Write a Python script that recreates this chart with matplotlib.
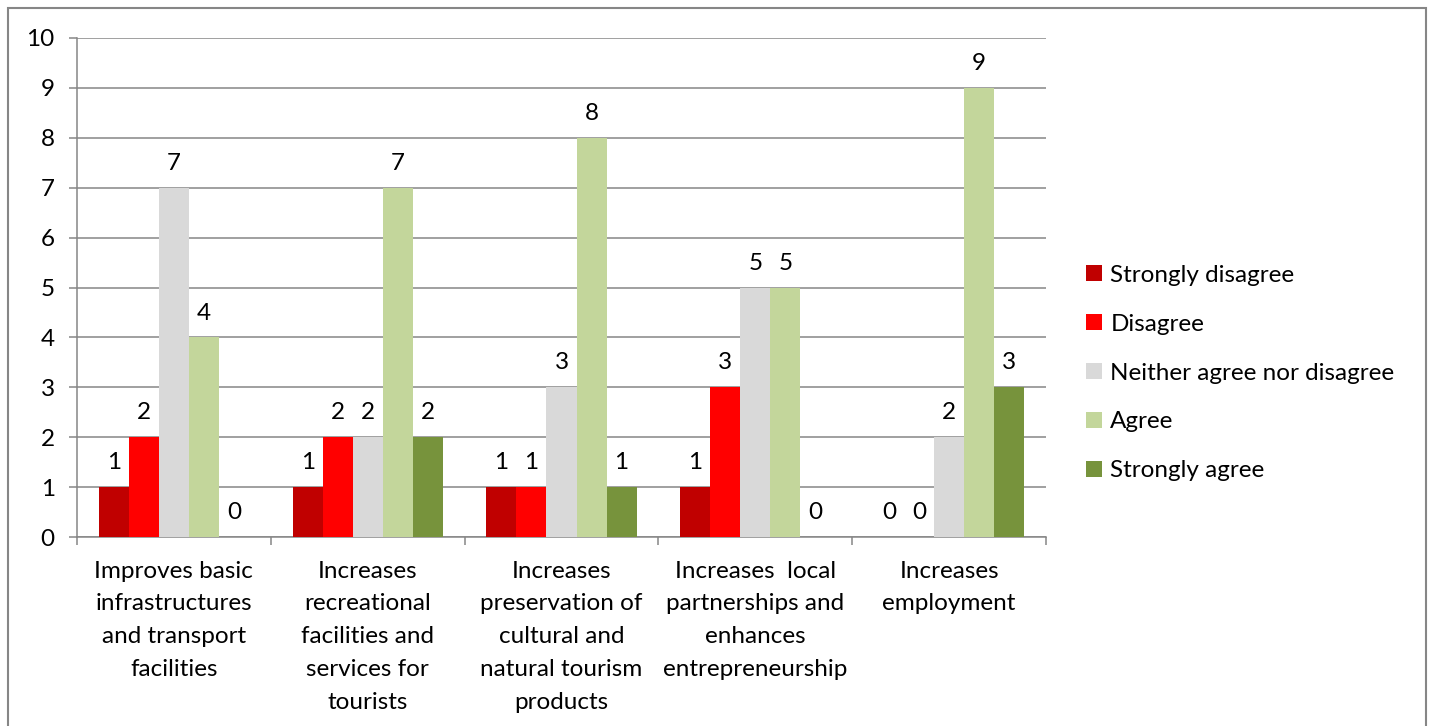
import matplotlib
matplotlib.use("Agg")
import matplotlib.pyplot as plt
from matplotlib.patches import Rectangle
import numpy as np

plt.rcParams['font.family'] = ['Lato', 'DejaVu Sans']

categories = [
    "Improves basic\ninfrastructures\nand transport\nfacilities",
    "Increases\nrecreational\nfacilities and\nservices for\ntourists",
    "Increases\npreservation of\ncultural and\nnatural tourism\nproducts",
    "Increases  local\npartnerships and\nenhances\nentrepreneurship",
    "Increases\nemployment",
]
series_names = ["Strongly disagree", "Disagree", "Neither agree nor disagree",
                "Agree", "Strongly agree"]
strongly_disagree = [1, 1, 1, 1, 0]
disagree = [2, 2, 1, 3, 0]
neutral = [7, 2, 3, 5, 2]
agree = [4, 7, 8, 5, 9]
strongly_agree = [0, 2, 1, 0, 3]
colors = ["#C00000", "#FF0000", "#D9D9D9", "#C3D69B", "#77933C"]

series = [strongly_disagree, disagree, neutral, agree, strongly_agree]
grid_col = "#868686"
fs = 17.5

fig = plt.figure(figsize=(14.33, 7.26), dpi=100)
ax = fig.add_axes([77 / 1433, 1 - 537 / 726, (1046 - 77) / 1433, (537 - 38) / 726])

x = np.arange(len(categories))
w = 0.155
handles = []
for k, (vals, name, c) in enumerate(zip(series, series_names, colors)):
    bars = ax.bar(x + (k - 2) * w, vals, w, color=c, label=name, zorder=3)
    handles.append(bars)
    for xi, v in zip(x + (k - 2) * w, vals):
        ax.annotate(str(v), (xi, v), xytext=(0, 10), textcoords="offset points",
                    ha="center", va="bottom", fontsize=fs, color="black")

ax.set_xlim(-0.5, len(categories) - 0.5)
ax.set_ylim(0, 10)
ax.set_yticks(range(0, 11))
ax.yaxis.grid(True, color=grid_col, linewidth=1.1, zorder=0)
ax.set_axisbelow(True)

ax.set_xticks(x)
ax.set_xticklabels(categories, fontsize=fs, linespacing=1.69)
ax.set_xticks(np.arange(-0.5, len(categories)), minor=True)
ax.tick_params(axis="x", which="major", length=0, pad=17)
ax.tick_params(axis="x", which="minor", length=6, width=1.1, color=grid_col, direction="out")
ax.tick_params(axis="y", length=6, width=1.1, color=grid_col, labelsize=fs, pad=10)

for s in ["top", "right"]:
    ax.spines[s].set_visible(False)
for s in ["left", "bottom"]:
    ax.spines[s].set_color(grid_col)
    ax.spines[s].set_linewidth(1.1)

fig.legend(handles=handles, loc="center left", bbox_to_anchor=(1086 / 1433, 1 - 373 / 726),
           frameon=False, fontsize=fs, handlelength=0.65, handleheight=0.65,
           handletextpad=0.35, labelspacing=1.15, borderpad=0, borderaxespad=0)

# chart border
fig.patches.append(Rectangle((8 / 1433, -0.05), (1426 - 8) / 1433, 1 - 8 / 726 + 0.05,
                             transform=fig.transFigure, fill=False,
                             edgecolor=grid_col, linewidth=1.5, figure=fig))

fig.savefig("out.png", dpi=100)
